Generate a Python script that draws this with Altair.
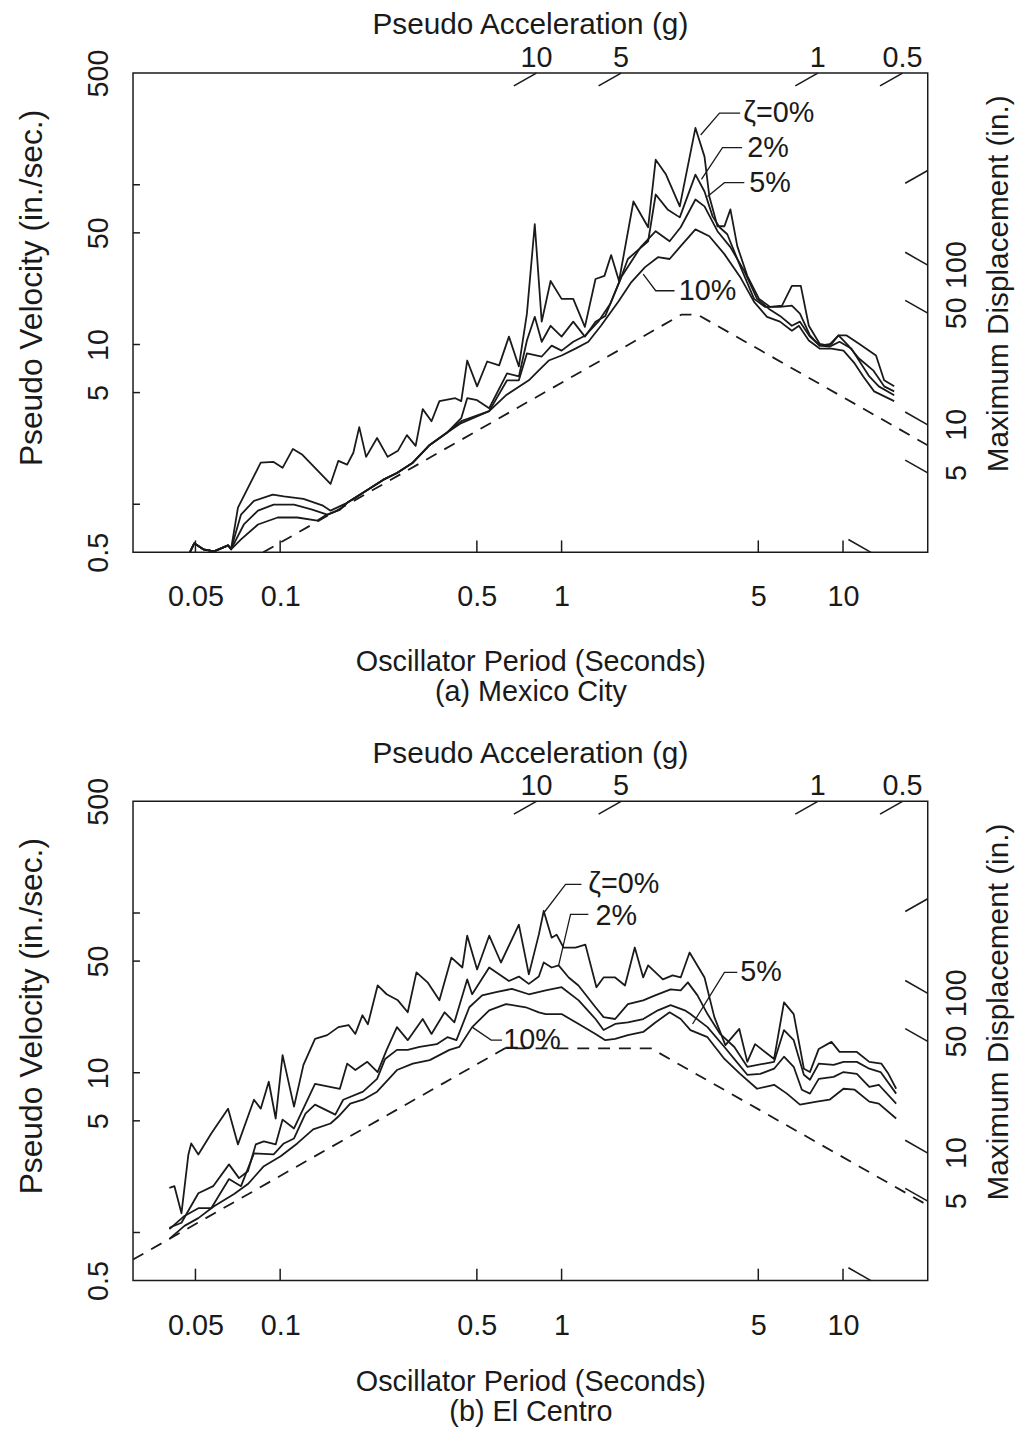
import math
import altair as alt
import pandas as pd

FONT = "Liberation Sans"
INK = "#1a1a1a"

# ---------------- axis values ----------------
T_domain = [0.03, 20]
V_domain = [0.5, 500]
x_label_vals = [0.05, 0.1, 0.5, 1, 5, 10]
x_tick_vals = [0.05, 0.1, 0.5, 1, 5, 10]
y_label_vals = [0.5, 5, 10, 50, 500]
y_tick_vals = [1, 5, 10, 50, 100]
acc_label_vals = [10, 5, 1, 0.5]      # pseudo acceleration (g), labelled at top edge
acc_extra_vals = [0.1]                # unlabelled, meets the right edge
disp_label_vals = [5, 10, 50, 100]    # max displacement (in.), labelled at right edge
disp_extra_vals = [1]                 # unlabelled, meets the bottom edge

# ---------------- (a) Mexico City ----------------
a_pre_T = [0.0475, 0.0495, 0.0533, 0.0582, 0.0653, 0.0669]
a_pre_V = [0.49, 0.569, 0.522, 0.507, 0.553, 0.522]
a_com_T = [0.151, 0.173, 0.197, 0.232, 0.260, 0.296, 0.340, 0.390]
a_com_V = [0.912, 1.02, 1.18, 1.42, 1.57, 1.82, 2.35, 2.79]

a_T0 = a_pre_T + [0.0708, 0.0853, 0.0948, 0.102, 0.111, 0.120, 0.151, 0.161, 0.173, 0.182, 0.191, 0.202,
                  0.221, 0.241, 0.262, 0.282, 0.303, 0.321, 0.345, 0.368, 0.419, 0.440, 0.462, 0.501, 0.544,
                  0.600, 0.650, 0.705, 0.753, 0.803, 0.850, 0.914, 1.00, 1.10, 1.21, 1.32, 1.42, 1.50, 1.60,
                  1.80, 2.03, 2.16, 2.35, 2.63, 2.99, 3.22, 3.35, 3.58, 3.79, 3.98, 4.21, 4.57, 5.03, 5.51,
                  6.07, 6.58, 7.08, 7.56, 8.26, 8.89, 9.64, 10.3, 11.4, 13.1, 14.0, 15.2]
a_V0 = a_pre_V + [0.953, 1.82, 1.84, 1.69, 2.22, 2.04, 1.34, 1.87, 1.77, 2.10, 3.04, 1.98, 2.60, 1.98, 2.16,
                  2.71, 2.32, 3.94, 3.31, 4.42, 4.61, 4.42, 7.94, 5.47, 7.83, 7.40, 11.2, 7.29, 15.6, 56.6,
                  13.9, 25.0, 19.3, 19.3, 12.9, 25.7, 26.9, 36.3, 25.0, 78.6, 54.2, 143.5, 115.8, 73.2, 227,
                  150, 84.5, 55.0, 55.0, 70.1, 41.3, 26.9, 19.3, 17.2, 17.5, 23.3, 23.3, 13.1, 10.1, 9.84,
                  11.4, 11.4, 10.1, 8.53, 5.97, 5.47]

a_T2 = a_pre_T + [0.0726, 0.0807, 0.0941, 0.103, 0.121, 0.142] + a_com_T + [
    0.440, 0.462, 0.501, 0.553, 0.640, 0.705, 0.753, 0.803, 0.850, 0.914, 1.00, 1.10, 1.21, 1.32, 1.43,
    1.61, 1.72, 2.03, 2.16, 2.38, 2.63, 2.99, 3.22, 3.44, 3.64, 3.88, 4.31, 4.83, 5.28, 5.97, 6.58, 7.03,
    7.63, 8.26, 9.10, 9.64, 10.45, 11.4, 12.8, 14.0, 15.2]
a_V2 = a_pre_V + [0.862, 1.05, 1.15, 1.12, 1.08, 0.98] + a_com_V + [
    3.46, 4.61, 4.48, 3.99, 6.59, 6.31, 10.6, 14.9, 10.4, 13.1, 11.2, 13.9, 11.2, 13.9, 15.1, 25.0, 34.3,
    44.3, 86.9, 70.1, 62.5, 115.8, 90.7, 63.4, 54.2, 49.0, 31.0, 19.3, 17.2, 17.2, 17.5, 15.6, 11.4, 9.84,
    10.1, 11.4, 9.84, 8.17, 6.89, 5.47, 5.09]

a_T5 = a_pre_T + [0.0743, 0.0834, 0.0948, 0.112, 0.130, 0.147, 0.163] + a_com_T[1:] + [
    0.440, 0.553, 0.640, 0.705, 0.753, 0.850, 0.922, 1.00, 1.10, 1.215, 1.35, 1.49, 1.63, 1.91, 2.16, 2.42,
    2.65, 2.99, 3.22, 3.58, 3.98, 4.46, 4.95, 5.46, 5.97, 6.58, 7.03, 7.63, 8.26, 8.96, 9.72, 10.7, 11.4,
    12.4, 13.4, 15.2]
a_V5 = a_pre_V + [0.747, 0.912, 0.995, 0.995, 0.926, 0.862, 0.926] + a_com_V[1:] + [
    3.31, 3.83, 5.97, 5.97, 8.79, 8.41, 9.84, 9.16, 10.4, 11.4, 13.9, 18.0, 26.5, 40.7, 51.2, 44.3, 54.2,
    80.9, 73.2, 51.2, 40.7, 28.8, 19.3, 16.7, 15.1, 13.1, 13.9, 11.2, 9.84, 9.70, 10.4, 9.43, 7.94, 6.31,
    5.47, 4.81]

a_T10 = a_pre_T + [0.0726, 0.0834, 0.098, 0.115, 0.1356, 0.1447, 0.163] + a_com_T[1:] + [
    0.440, 0.553, 0.634, 0.765, 0.830, 0.900, 1.00, 1.12, 1.245, 1.38, 1.59, 1.77, 1.98, 2.20, 2.42, 2.65,
    2.99, 3.35, 3.79, 4.31, 4.83, 5.37, 5.97, 6.58, 6.97, 7.56, 8.26, 9.10, 10.04, 11.0, 11.8, 12.9, 15.2]
a_V10 = a_pre_V + [0.602, 0.747, 0.826, 0.826, 0.791, 0.849, 0.926] + a_com_V[1:] + [
    3.22, 3.83, 4.81, 5.97, 6.89, 7.94, 8.53, 9.43, 10.4, 13.1, 18.5, 24.6, 30.5, 35.2, 34.3, 41.3, 52.6,
    47.6, 36.8, 26.5, 18.5, 14.9, 13.9, 12.2, 13.1, 10.6, 9.43, 9.43, 9.16, 7.61, 6.31, 5.09, 4.42]

a_dash_T = [0.087, 2.67, 3.04, 20]
a_dash_V = [0.5, 15.4, 15.4, 2.34]

a_note_text = ["ζ=0%", "2%", "5%", "10%"]
a_note_T = [4.42, 4.57, 4.64, 2.61]
a_note_V = [281, 170.6, 103, 21.7]
a_lead_T = [[3.12, 3.64, 4.31], [3.14, 3.73, 4.38], [3.30, 3.79, 4.46], [1.95, 2.16, 2.52]]
a_lead_V = [[205, 281, 281], [108, 170.6, 170.6], [84.5, 103, 103], [27.6, 21.7, 21.7]]

# ---------------- (b) El Centro ----------------
b_T0 = [0.0404, 0.0421, 0.0446, 0.0472, 0.0483, 0.0512, 0.0569, 0.0653, 0.0708, 0.0807, 0.0853, 0.0911,
        0.0964, 0.102, 0.112, 0.121, 0.133, 0.147, 0.161, 0.175, 0.185, 0.196, 0.205, 0.222, 0.239, 0.262,
        0.284, 0.305, 0.334, 0.368, 0.406, 0.444, 0.462, 0.501, 0.553, 0.609, 0.705, 0.765, 0.830, 0.864,
        0.922, 0.960, 1.016, 1.12, 1.215, 1.33, 1.41, 1.55, 1.68, 1.82, 1.95, 2.03, 2.29, 2.48, 2.65, 2.85,
        3.22, 3.49, 3.82, 4.28, 4.57, 4.87, 5.69, 6.17, 6.68, 7.26, 7.63, 8.20, 9.10, 9.72, 11.2, 12.4,
        13.7, 14.5, 15.45]
b_V0 = [1.90, 1.95, 1.32, 3.08, 3.61, 3.08, 4.17, 5.96, 3.56, 6.78, 5.96, 8.78, 5.17, 12.9, 6.14, 11.2,
        16.3, 17.2, 19.3, 19.9, 17.5, 22.9, 20.1, 35.2, 31.0, 28.4, 23.9, 42.5, 36.8, 28.4, 52.6, 45.6,
        72.1, 44.3, 72.1, 49.0, 84.5, 41.3, 73.2, 103, 70.1, 73.2, 60.8, 60.8, 63.4, 34.3, 39.5, 39.5, 35.2,
        60.8, 39.5, 47.0, 38.4, 40.7, 39.5, 56.6, 39.5, 22.3, 14.9, 18.8, 11.7, 15.1, 12.2, 27.6, 23.3,
        10.6, 10.1, 14.1, 15.6, 13.5, 13.5, 11.7, 11.4, 9.84, 7.94]

b_T2 = [0.0404, 0.0446, 0.0512, 0.0578, 0.0658, 0.0714, 0.0768, 0.0819, 0.0875, 0.0964, 0.102, 0.112,
        0.133, 0.163, 0.173, 0.185, 0.204, 0.222, 0.239, 0.260, 0.284, 0.321, 0.345, 0.384, 0.416, 0.462,
        0.481, 0.553, 0.650, 0.705, 0.765, 0.830, 0.864, 0.922, 0.976, 1.06, 1.148, 1.32, 1.41, 1.55, 1.72,
        1.95, 2.15, 2.44, 2.65, 2.81, 3.04, 3.30, 3.66, 4.11, 4.57, 5.69, 6.17, 6.68, 7.26, 7.63, 8.20,
        9.26, 10.04, 11.2, 12.4, 13.6, 15.45]
b_V2 = [1.07, 1.15, 1.76, 1.95, 2.67, 2.19, 2.42, 3.56, 3.72, 3.56, 5.09, 4.48, 8.53, 7.94, 11.4, 10.4,
        11.7, 10.1, 13.9, 19.3, 16.0, 21.7, 17.5, 23.9, 20.7, 38.4, 31.0, 45.6, 37.5, 40.0, 36.0, 40.0,
        49.0, 45.6, 47.0, 39.5, 35.2, 25.7, 22.3, 21.7, 26.9, 28.4, 30.5, 33.3, 32.8, 36.8, 30.5, 23.3,
        17.5, 14.5, 10.9, 11.7, 18.5, 16.0, 9.71, 9.04, 11.4, 11.2, 11.7, 11.7, 10.6, 10.1, 7.40]

b_T5 = [0.0404, 0.0457, 0.0512, 0.0569, 0.0658, 0.0726, 0.0807, 0.0948, 0.103, 0.112, 0.123, 0.133,
        0.157, 0.1675, 0.197, 0.221, 0.236, 0.260, 0.284, 0.313, 0.360, 0.393, 0.423, 0.470, 0.522, 0.585,
        0.666, 0.765, 0.878, 1.00, 1.15, 1.32, 1.41, 1.55, 1.72, 1.95, 2.20, 2.44, 2.74, 2.87, 3.30, 3.79,
        4.14, 4.57, 5.08, 5.69, 6.17, 6.68, 7.14, 7.63, 8.20, 9.26, 10.04, 11.2, 12.4, 13.4, 15.45]
b_V5 = [1.05, 1.27, 1.42, 1.42, 2.16, 1.95, 3.13, 3.08, 3.61, 3.88, 5.55, 6.32, 5.47, 6.78, 7.61, 9.16,
        12.2, 13.9, 13.9, 14.5, 15.1, 16.7, 16.0, 25.7, 30.5, 32.0, 33.5, 31.0, 32.8, 34.3, 28.4, 21.7,
        18.5, 20.2, 20.7, 21.7, 24.6, 26.5, 24.6, 23.3, 19.3, 14.5, 12.0, 9.71, 9.84, 10.6, 12.6, 10.9,
        7.83, 7.40, 9.16, 9.43, 10.1, 9.84, 8.17, 8.41, 6.41]

b_T10 = [0.0404, 0.0457, 0.0512, 0.0582, 0.0686, 0.0768, 0.0875, 0.1004, 0.115, 0.131, 0.151, 0.161,
         0.1774, 0.197, 0.221, 0.260, 0.296, 0.340, 0.3995, 0.433, 0.481, 0.553, 0.634, 0.746, 0.830,
         0.878, 1.00, 1.15, 1.32, 1.43, 1.55, 1.72, 1.95, 2.16, 2.42, 2.65, 2.87, 3.30, 3.79, 4.31, 4.95,
         5.69, 6.32, 7.03, 8.07, 8.96, 10.04, 11.0, 12.4, 13.4, 15.45]
b_V10 = [0.912, 1.10, 1.23, 1.46, 1.74, 2.01, 2.60, 3.00, 3.61, 4.42, 4.81, 5.32, 6.41, 6.78, 7.61, 10.4,
         11.4, 12.0, 13.9, 14.5, 19.3, 24.6, 26.9, 25.7, 23.9, 23.3, 23.3, 20.2, 17.5, 16.0, 16.3, 17.2,
         18.0, 20.7, 23.9, 21.7, 18.5, 16.7, 12.2, 9.84, 7.94, 8.41, 7.40, 6.32, 6.59, 6.78, 7.94, 7.83,
         6.59, 6.41, 5.17]

b_dash_T = [0.03, 0.628, 2.08, 20]
b_dash_V = [0.677, 14.2, 14.2, 1.48]

b_note_text = ["ζ=0%", "2%", "5%", "10%"]
b_note_T = [1.245, 1.32, 4.31, 0.62]
b_note_V = [151, 96.1, 42.5, 16.0]
b_lead_T = [[0.864, 1.033, 1.176], [0.976, 1.076, 1.245], [2.92, 3.79, 4.21], [0.481, 0.562, 0.614]]
b_lead_V = [[100, 151, 151], [47.0, 98, 98], [20.2, 42.5, 42.5], [19.3, 16.0, 16.0]]

# ---------------- helpers ----------------
G_IN = 386.1          # in/s^2 per g
TWO_PI = 2 * math.pi
TICK_DEC = 0.08       # length of the tripartite ticks, in decades (style)
W, H = 801, 483


def curves_frame(series):
    rows = []
    for name, (ts, vs) in series.items():
        for i, (t, v) in enumerate(zip(ts, vs)):
            rows.append({"series": name, "i": i, "T": t, "V": v})
    return pd.DataFrame(rows)


def tripartite_frame():
    tmin, tmax = T_domain
    vmin, vmax = V_domain
    k = 10 ** TICK_DEC
    rows = []
    for a in acc_label_vals:
        t = TWO_PI * vmax / (a * G_IN)
        rows.append({"T": t, "V": vmax, "T2": t / k, "V2": vmax / k})
    for a in acc_extra_vals:
        v = a * G_IN * tmax / TWO_PI
        rows.append({"T": tmax, "V": v, "T2": tmax / k, "V2": v / k})
    for d in disp_label_vals:
        v = TWO_PI * d / tmax
        rows.append({"T": tmax, "V": v, "T2": tmax / k, "V2": v * k})
    for d in disp_extra_vals:
        t = TWO_PI * d / vmin
        rows.append({"T": t, "V": vmin, "T2": t / k, "V2": vmin * k})
    return pd.DataFrame(rows)


def acc_label_frame():
    vmax = V_domain[1]
    return pd.DataFrame({"T": [TWO_PI * vmax / (a * G_IN) for a in acc_label_vals],
                         "V": [vmax] * len(acc_label_vals),
                         "label": [f"{a:g}" for a in acc_label_vals]})


def disp_label_frame():
    tmax = T_domain[1]
    return pd.DataFrame({"T": [tmax] * len(disp_label_vals),
                         "V": [TWO_PI * d / tmax for d in disp_label_vals],
                         "label": [f"{d:g}" for d in disp_label_vals]})


x_scale = alt.Scale(type="log", domain=T_domain, nice=False)
y_scale = alt.Scale(type="log", domain=V_domain, nice=False)

y_axis = alt.Axis(values=y_label_vals, format="~g", ticks=False, tickSize=0, domain=False, grid=False,
                  labelFont=FONT, labelFontSize=29, labelColor=INK, labelAngle=270, labelAlign="center",
                  labelBaseline="bottom", labelPadding=20, labelOverlap=False, labelFlush=False,
                  title="Pseudo Velocity (in./sec.)", titleFont=FONT, titleFontSize=32,
                  titleFontWeight="normal", titleColor=INK, titlePadding=36, titleY=216)


def x_axis(caption, title_pad):
    return alt.Axis(values=x_label_vals, format="~g", ticks=False, tickSize=0, domain=False, grid=False,
                    labelFont=FONT, labelFontSize=29, labelColor=INK, labelPadding=31, labelOverlap=False,
                    labelFlush=False, title=["Oscillator Period (Seconds)", caption], titleFont=FONT,
                    titleFontSize=29, titleFontWeight="normal", titleColor=INK, titlePadding=title_pad,
                    titleLineHeight=30)


def panel(series, dash_T, dash_V, note_text, note_T, note_V, lead_T, lead_V, caption, title_pad):
    xa = x_axis(caption, title_pad)

    def X(f="T"):
        return alt.X(f"{f}:Q", scale=x_scale, axis=xa)

    def Y(f="V"):
        return alt.Y(f"{f}:Q", scale=y_scale, axis=y_axis)

    curves = alt.Chart(curves_frame(series)).mark_line(
        color=INK, strokeWidth=1.8, clip=True, strokeJoin="round").encode(
        x=X(), y=Y(), detail="series:N", order="i:Q")

    dashed = alt.Chart(pd.DataFrame({"T": dash_T, "V": dash_V, "i": range(len(dash_T))})).mark_line(
        color=INK, strokeWidth=1.8, strokeDash=[12, 9], clip=True).encode(x=X(), y=Y(), order="i:Q")

    lticks = alt.Chart(pd.DataFrame({"V": y_tick_vals})).mark_rule(color=INK, strokeWidth=1.5).encode(
        x=alt.value(0), x2=alt.value(7), y=Y())

    bticks = alt.Chart(pd.DataFrame({"T": x_tick_vals})).mark_rule(color=INK, strokeWidth=1.5).encode(
        x=X(), y=alt.value(H), y2=alt.value(H - 12))

    tri = alt.Chart(tripartite_frame()).mark_rule(color=INK, strokeWidth=1.6).encode(
        x=X(), x2=alt.X2("T2:Q"), y=Y(), y2=alt.Y2("V2:Q"))

    acc_lab = alt.Chart(acc_label_frame()).mark_text(
        font=FONT, fontSize=29, color=INK, align="center", baseline="alphabetic", dy=-6).encode(
        x=X(), y=Y(), text="label:N")

    disp_lab = alt.Chart(disp_label_frame()).mark_text(
        font=FONT, fontSize=29, color=INK, align="center", baseline="middle", angle=270, dy=30).encode(
        x=X(), y=Y(), text="label:N")

    right_title = alt.Chart(pd.DataFrame({"T": [T_domain[1]], "V": [24.0],
                                          "label": ["Maximum Displacement (in.)"]})).mark_text(
        font=FONT, fontSize=30, color=INK, align="center", baseline="middle", angle=270, dy=72).encode(
        x=X(), y=Y(), text="label:N")

    lead_rows = []
    for k, (ts, vs) in enumerate(zip(lead_T, lead_V)):
        for i, (t, v) in enumerate(zip(ts, vs)):
            lead_rows.append({"k": k, "i": i, "T": t, "V": v})
    leaders = alt.Chart(pd.DataFrame(lead_rows)).mark_line(color=INK, strokeWidth=1.3).encode(
        x=X(), y=Y(), detail="k:N", order="i:Q")

    notes = alt.Chart(pd.DataFrame({"T": note_T, "V": note_V, "label": note_text})).mark_text(
        font=FONT, fontSize=29, color=INK, align="left", baseline="middle").encode(
        x=X(), y=Y(), text="label:N")

    return alt.layer(curves, dashed, lticks, bticks, tri, acc_lab, disp_lab, right_title,
                     leaders, notes).properties(
        width=W, height=H,
        title=alt.TitleParams("Pseudo Acceleration (g)", font=FONT, fontSize=30, fontWeight="normal",
                              color=INK, anchor="middle", frame="group", offset=4))


panel_a = panel({"0%": (a_T0, a_V0), "2%": (a_T2, a_V2), "5%": (a_T5, a_V5), "10%": (a_T10, a_V10)},
                a_dash_T, a_dash_V, a_note_text, a_note_T, a_note_V, a_lead_T, a_lead_V,
                "(a) Mexico City", 36)
panel_b = panel({"0%": (b_T0, b_V0), "2%": (b_T2, b_V2), "5%": (b_T5, b_V5), "10%": (b_T10, b_V10)},
                b_dash_T, b_dash_V, b_note_text, b_note_T, b_note_V, b_lead_T, b_lead_V,
                "(b) El Centro", 28)

chart = alt.vconcat(panel_a, panel_b, spacing=31).properties(
    padding={"left": 7, "top": -4, "right": 5, "bottom": 0},
    background="white",
).configure_view(stroke=INK, strokeWidth=1.5)

chart.save("out.html", embed_options={"renderer": "svg", "actions": False})
